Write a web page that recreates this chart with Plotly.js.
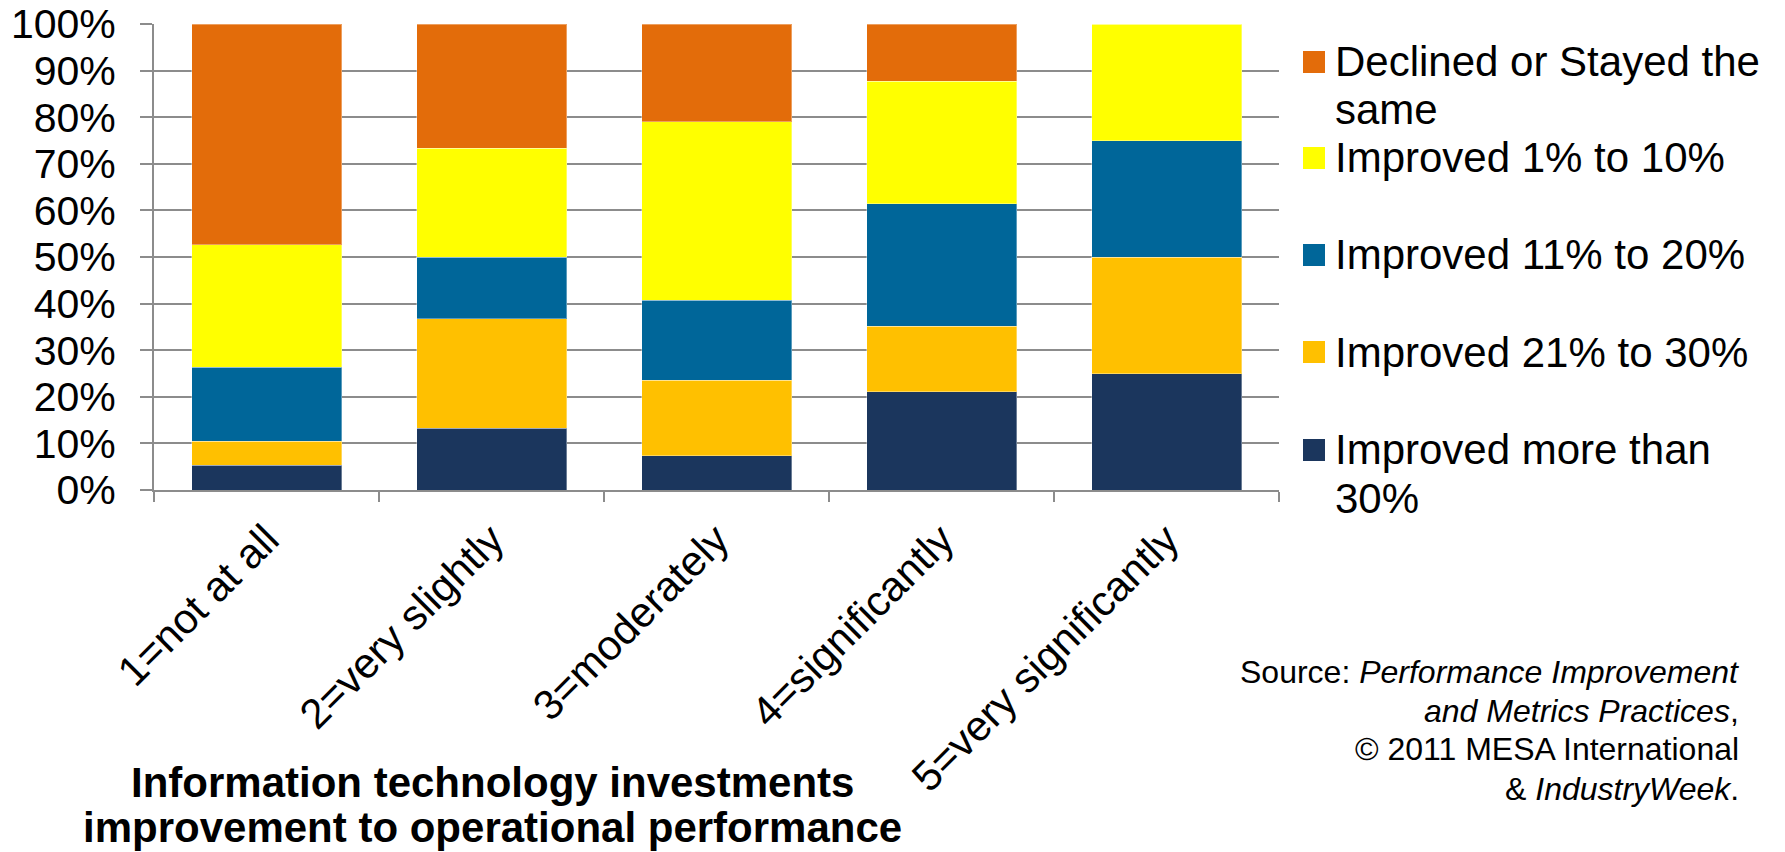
<!DOCTYPE html>
<html>
<head>
<meta charset="utf-8">
<script src="https://cdn.plot.ly/plotly-3.0.1.min.js"></script>
<style>
  html, body { margin: 0; padding: 0; background: #ffffff; }
  #chart { width: 1785px; height: 852px; }
</style>
</head>
<body>
<div id="chart"></div>
<script>
// Survey response categories (x axis)
const categories = ['1=not at all', '2=very slightly', '3=moderately', '4=significantly', '5=very significantly'];

// Share of respondents (%) per outcome, one value per category
const improvedMoreThan30 = [5.3, 13.3, 7.4, 21.1, 25.0];
const improved21to30     = [5.2, 23.4, 16.1, 14.0, 25.0];
const improved11to20     = [15.8, 13.3, 17.2, 26.3, 25.0];
const improved1to10      = [26.3, 23.3, 38.3, 26.3, 25.0];
const declinedOrSame     = [47.4, 26.7, 21.0, 12.3, 0.0];

// Series names, bottom of the stack first
const seriesNames = ['Improved more than 30%', 'Improved 21% to 30%', 'Improved 11% to 20%', 'Improved 1% to 10%', 'Declined or Stayed the same'];
const seriesValues = [improvedMoreThan30, improved21to30, improved11to20, improved1to10, declinedOrSame];
const seriesColors = ['#1b365d', '#ffc000', '#006699', '#ffff00', '#e36c0a'];

// Legend text lines, top entry first
const legendLines = [
  ['Declined or Stayed the', 'same'],
  ['Improved 1% to 10%'],
  ['Improved 11% to 20%'],
  ['Improved 21% to 30%'],
  ['Improved more than', '30%']
];

const xTitleLines = ['Information technology investments', 'improvement to operational performance'];
const sourceLines = [
  'Source: <i>Performance Improvement</i>',
  '<i>and Metrics Practices</i>,',
  '\u00a9 2011 MESA International',
  '&amp; <i>IndustryWeek</i>.'
];

const FONT = 'Liberation Sans, Arial, Helvetica, sans-serif';
const GRID = '#8c8c8c';

// plot box in page pixels, used to place the free-standing texts
const BOX = { l: 154, r: 1279, t: 24, b: 490, W: 1785, H: 852 };
const px = x => (x - BOX.l) / (BOX.r - BOX.l);
const py = y => (BOX.b - y) / (BOX.b - BOX.t);

const traces = seriesNames.map((name, i) => ({
  type: 'bar',
  name: name,
  x: categories,
  y: seriesValues[i],
  marker: { color: seriesColors[i], line: { color: 'rgba(255,255,255,0.35)', width: 1 } },
  hovertemplate: '%{x}<br>' + name + ': %{y:.1f}%<extra></extra>'
}));

// hand-laid legend: swatch + text, top to bottom
const legendSwatchY = [62, 158, 255, 352, 450];
const legendTextY = [[61, 109], [157.5], [254.5], [352], [449, 498.5]];
const legendColors = seriesColors.slice().reverse();

const shapes = [];
const annotations = [];
legendLines.forEach((lines, i) => {
  const yc = legendSwatchY[i];
  shapes.push({
    type: 'rect', xref: 'paper', yref: 'paper',
    x0: px(1303), x1: px(1325), y0: py(yc + 11), y1: py(yc - 11),
    fillcolor: legendColors[i], line: { width: 0 }, layer: 'above'
  });
  lines.forEach((t, j) => {
    annotations.push({
      xref: 'paper', yref: 'paper', x: px(1333), y: py(legendTextY[i][j]),
      xanchor: 'left', yanchor: 'middle', showarrow: false,
      text: t, font: { family: FONT, size: 42, color: '#000000' }
    });
  });
});

// category axis title, two lines
const titleY = [782, 827];
xTitleLines.forEach((t, j) => {
  annotations.push({
    xref: 'paper', yref: 'paper', x: px(492), y: py(titleY[j]),
    xanchor: 'center', yanchor: 'middle', showarrow: false,
    text: '<b>' + t + '</b>', font: { family: FONT, size: 42, color: '#000000' }
  });
});

// source note, right aligned
const sourceY = [671.5, 710.5, 749.5, 788.5];
sourceLines.forEach((t, j) => {
  annotations.push({
    xref: 'paper', yref: 'paper', x: px(1741), y: py(sourceY[j]),
    xanchor: 'right', yanchor: 'middle', align: 'right', showarrow: false,
    text: t, font: { family: FONT, size: 32, color: '#000000' }
  });
});

const layout = {
  width: BOX.W, height: BOX.H, autosize: false,
  margin: { l: BOX.l, r: BOX.W - BOX.r, t: BOX.t, b: BOX.H - BOX.b, pad: 0 },
  paper_bgcolor: '#ffffff', plot_bgcolor: '#ffffff',
  font: { family: FONT, size: 41, color: '#000000' },
  barmode: 'stack', bargap: 1 / 3,
  showlegend: false,
  xaxis: {
    type: 'category',
    showgrid: false, zeroline: false,
    showline: true, linecolor: GRID, linewidth: 2,
    ticks: 'outside', tickson: 'boundaries', ticklen: 10, tickwidth: 2, tickcolor: GRID,
    tickangle: -45, ticklabelstandoff: 6,
    tickfont: { family: FONT, size: 42, color: '#000000' },
    fixedrange: true
  },
  yaxis: {
    range: [0, 100], dtick: 10, tick0: 0, ticksuffix: '%',
    showgrid: true, gridcolor: GRID, gridwidth: 2, zeroline: false,
    showline: true, linecolor: GRID, linewidth: 2,
    ticks: 'outside', ticklen: 12, tickwidth: 2, tickcolor: GRID,
    ticklabelstandoff: 16,
    tickfont: { family: FONT, size: 41, color: '#000000' },
    fixedrange: true
  },
  shapes: shapes,
  annotations: annotations
};

Plotly.newPlot('chart', traces, layout, { displayModeBar: false, staticPlot: true });
</script>
</body>
</html>
